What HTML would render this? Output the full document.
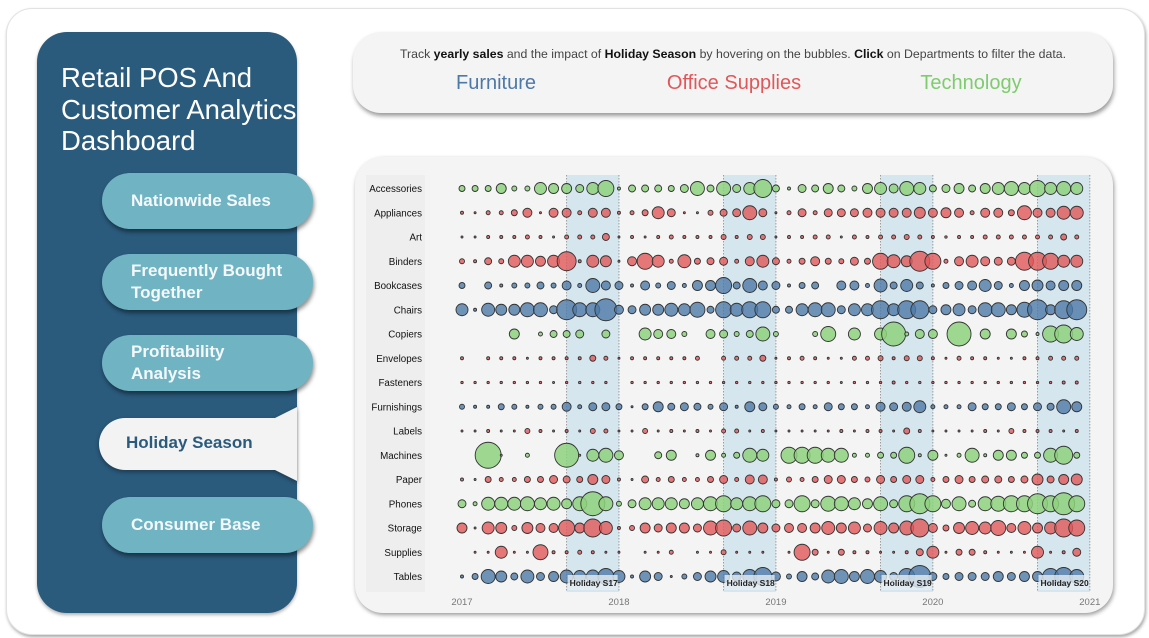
<!DOCTYPE html>
<html><head><meta charset="utf-8">
<style>
body{margin:0;width:1149px;height:638px;background:#fff;font-family:"Liberation Sans",sans-serif;position:relative;overflow:hidden}
.abs{position:absolute}
#frame{left:6px;top:8px;width:1137px;height:625px;border-radius:26px;border:1px solid #e2e2e2;box-shadow:1px 2px 3px rgba(0,0,0,.35);background:#fff}
#side{left:37px;top:32px;width:260px;height:581px;border-radius:30px;background:#2a5a7c;box-shadow:0 2px 3px rgba(0,0,0,.3)}
#title{left:61px;top:62px;color:#fff;font-size:27.5px;line-height:31.5px;font-weight:300}
.btn{left:102px;width:211px;height:56px;border-radius:28px;background:#70b4c4;color:#f4f8fa;font-weight:bold;font-size:17px;box-shadow:1px 3px 4px rgba(0,0,0,.45);box-sizing:border-box;padding-left:29px;display:flex;align-items:center;line-height:22px}
#head{left:353px;top:32px;width:760px;height:81px;border-radius:28px;background:#f4f4f4;box-shadow:1px 3px 4px rgba(0,0,0,.4)}
#card{left:355px;top:157px;width:758px;height:456px;border-radius:28px;background:#f4f4f4;box-shadow:1px 2px 4px rgba(0,0,0,.4)}
</style></head><body>
<div class="abs" id="frame"></div>
<div class="abs" id="side"></div>
<div class="abs" id="title">Retail POS And<br>Customer Analytics<br>Dashboard</div>
<div class="abs btn" style="top:173px">Nationwide Sales</div>
<div class="abs btn" style="top:254px">Frequently Bought<br>Together</div>
<div class="abs btn" style="top:335px">Profitability<br>Analysis</div>
<svg class="abs" style="left:95px;top:400px" width="210" height="90">
<path d="M30,18 H180 L202,7 V81 L180,70 H30 A26,26 0 0 1 30,18 Z" fill="#f3f3f3" filter="drop-shadow(0 2px 2px rgba(0,0,0,.35))"/>
<text x="31" y="48" font-size="17" font-weight="bold" fill="#2a5a7c" font-family="Liberation Sans, sans-serif">Holiday Season</text>
</svg>
<div class="abs btn" style="top:497px">Consumer Base</div>

<div class="abs" id="head">
<div class="abs" style="left:0;width:760px;top:15px;text-align:center;font-size:12.3px;color:#444">Track <b style="color:#111">yearly sales</b> and the impact of <b style="color:#111">Holiday Season</b> by hovering on the bubbles. <b style="color:#111">Click</b> on Departments to filter the data.</div>
<div class="abs" style="left:43px;width:200px;top:40px;text-align:center;font-size:20px;color:#4e79a7">Furniture</div>
<div class="abs" style="left:281px;width:200px;top:40px;text-align:center;font-size:20px;color:#e15759">Office Supplies</div>
<div class="abs" style="left:518px;width:200px;top:40px;text-align:center;font-size:20px;color:#7fcb6f">Technology</div>
</div>
<div class="abs" id="card"></div>
<svg class="abs" style="left:0;top:0" width="1149" height="638" id="chart"></svg>
<script>
const categories=["Accessories","Appliances","Art","Binders","Bookcases","Chairs","Copiers","Envelopes","Fasteners","Furnishings","Labels","Machines","Paper","Phones","Storage","Supplies","Tables"];
const departments=["T","O","O","O","F","F","T","O","O","F","O","T","O","T","O","O","F"];
const years=["2017","2018","2019","2020","2021"];
const holidayLabels=["Holiday S17","Holiday S18","Holiday S19","Holiday S20"];
const accessories=[3,3,3,5,2.5,2.5,6,5,5,4,6,8,1.5,3.5,3.5,3.5,3,4,7,3.5,7,4,6,9,3.5,1.5,4,3.5,5,3.5,2.5,5,6,4.5,7,6,3.5,4,5,3.5,5,6,7,6,8,6,7,6];
const appliances=[1.5,1,2,2,3,4.5,1,4.5,4.5,2,4.5,4.5,1.5,2,3,6,4,1,1,2.5,3.5,4,7,4,1,2,4,2,4,4,4,4.5,4.5,4.5,4.5,5.5,4.5,5,4.5,2,4.5,4.5,3,7,4.5,4.5,6.5,6.5];
const art=[1,1,1.5,1.5,1.5,2,1.5,1,2,2,2,3.5,1,1.5,1,1.5,2,1.5,1.5,1.5,2.5,1.5,2.5,2.5,1,1.5,1.5,2,2,1,2,1.5,2,2,2.5,2,1.5,1.2,1.5,1.5,2,2,2,2,2,2,3,2];
const binders=[2.5,1.5,3.5,2.5,6,6,5,6,9.5,1.5,6,5.5,1,4.5,8,6,2,6.5,3,3.5,4,2,4.5,6,3.5,2,3,4.5,3,2.5,4,3,8,6.5,5.5,10,8,2,4.5,6,4.5,4,4,9,9,8,6,6];
const bookcases=[3,0,3.5,1.5,2.5,2.5,3.5,2.5,4.5,2,7,4.5,4,1.5,4.5,2.5,4,2,5,5,8,3.5,7,4.5,4,1.5,3,3.5,0,4.5,4.5,2,6.5,3.5,6,3.5,1.5,3,4,4.5,6,4,2,5,5.5,4.5,5,5];
const chairs=[6,1.5,6.5,5.5,5.5,7,7,4,10,7,7,11,4.5,4,5.5,5.5,6.5,6,7.5,3.5,8,6.5,8,8,3.5,3.5,6,7,7,4,6,6,9,6,9,9,4,5,6,4,7,7,5,7.5,10,5,9,10];
const copiers=[0,0,0,0,5,0,2,3.5,3.5,4,0,4,0,0,6,4.5,4.5,2.5,0,4.5,4,2.5,3.5,7,2.5,0,0,2.5,7.5,0,6,0,6,12,2,4.5,4.5,0,12,0,5,0,5,3,1.5,8,9,6.5];
const envelopes=[1.5,0,1.5,1.5,1.5,1,1.5,1.5,1.5,1.5,3,2,1,1.5,1.5,1.5,1.5,1.5,2,0,2,2,2,3,1,1.5,2,1.5,1,1,2,2,2.5,1.5,2.5,2.5,1.5,1,2,1.5,1.5,1,1,1.5,1.5,2,2,2];
const fasteners=[1.2,1.2,1.2,1.2,1.2,1.2,1.2,1,1.2,1.2,1.2,1.2,0,1.2,1.2,1.2,1.2,1.2,1.2,1.2,1.2,1.2,1.2,1.2,1.2,1.2,1.2,1.2,1.2,1,1.2,1.2,1.2,1.5,1.2,1.2,1.2,1.2,1.2,1.2,1.2,1.2,1.2,1.2,1.2,1.2,1.5,1.5];
const furnishings=[2.5,1.5,1.5,3,2.5,1.5,2.5,2.5,4.5,2,4,4,3,1,3,5,3.5,4,3.5,2.5,4,1.5,5,4,2.5,2,3,2,4,3,3,2,4.5,4,4.5,6,2,2,2,4,3,3,4,3,4,3.5,7,5];
const labels=[1,1,1.5,1,1,2.5,1.5,1,1.5,1,2.5,2,1,1,2.5,1,1.5,1,1.5,1,2,2,1,1.5,1,1,1,1,1,1.5,1,1.5,1.5,1,3,1.5,1,1,1,1,1.5,1,2.5,1.5,1.5,1.5,1,1.5];
const machines=[0,0,13,1,0,2,0,0,12,1,6,7,4.5,0,0,3.5,5,0,1.5,5,2,3,7,6,0,8,8,8,7,7,2,2,3,3,8,1.5,5,1,2,7,1.5,5,5,3,3,7,9,3];
const paper=[1.5,1,3,2,2,3,3,4,3.5,3,5,4,1.5,1,3.5,2,3,2,2,3,4,2,4.5,4.5,1.5,2.5,2,3,4,4,3,2.5,4,3,4,4,2,3,4,3,3.5,3.5,3,3.5,5.5,3.5,5,5.5];
const phones=[4,2,6.5,6.5,6.5,7,6,6.5,5,7,12,7,2.5,4,6,6,6,5,6,7,8,6,7,8,4,4,8,4,7.5,7,6,5,7,4,8,10,8,4.5,7,3.5,7,7.5,8,8,10,8,11,8];
const storage=[5,1,6,5.5,2.5,5.5,4.5,4.5,8,5,9,6.5,1.5,2.5,5,4,5,5,4,7,8,4,7,5,4,4.5,4.5,5,6.5,5,6,4,6.5,5,7,9,4.5,3,5.5,6.5,6,7.5,4.5,6.5,5,6,9,8];
const supplies=[0,1,1,6,1,1,7.5,1.5,1.5,2,1.5,1,1,0,1,1,2,0,1,1,2.5,1,1,1,0,1,8,3,1,3,1.5,1.5,1,1,1.5,3.5,6,1,3,3,1.5,1,1,1,6,1,1.5,4];
const tables=[1.5,3,7,5.5,3.5,6.5,4,5,6.5,6,6.5,8,6,1.5,5.5,4,1,2.5,4,5.5,6,4.5,7,9,4.5,2.5,5,3.5,6.5,7,5,7,6,4,8,11,4,3,4,4,4,5,4,5,5,8,9,7];
const series=[accessories,appliances,art,binders,bookcases,chairs,copiers,envelopes,fasteners,furnishings,labels,machines,paper,phones,storage,supplies,tables];

const NS="http://www.w3.org/2000/svg";
const svg=document.getElementById('chart');
const X0=462, MONTH=13.08, Y0=188.5, ROW=24.25;
const xScale=m=>X0+m*MONTH;
const yScale=i=>Y0+i*ROW;
const rScale=v=>v;
const fills={F:"#4e79a7",O:"#e15759",T:"#8ed17e"};
function mk(tag,attrs){const e=document.createElementNS(NS,tag);for(const k in attrs)e.setAttribute(k,attrs[k]);svg.appendChild(e);return e;}
const plotTop=175, plotBot=592;
let e=mk('rect',{x:366,y:plotTop,width:59,height:plotBot-plotTop,fill:"#eeeeee"});


holidayLabels.forEach((lab,k)=>{
  const a=xScale(8+12*k), b=xScale(12+12*k);
  let r=mk('rect',{x:a,y:plotTop,width:b-a,height:plotBot-plotTop,fill:"#d6e6ee"});
  
  
  [a,b].forEach(xx=>{let l=mk('line',{x1:xx,x2:xx,y1:plotTop,y2:plotBot,stroke:"#888","stroke-width":0.8,"stroke-dasharray":"1.5,1.5"});
  
  });
});
categories.forEach((c,i)=>{
  let t=mk('text',{x:422,y:yScale(i)+3.5,"text-anchor":"end","font-size":"9.8","fill":"#111","font-family":"Liberation Sans, sans-serif"});
  t.textContent=c;
  
  
  series[i].forEach((v,m)=>{
    if(!v)return;
    let ci=mk('circle',{cx:xScale(m),cy:yScale(i),r:rScale(v),fill:fills[departments[i]],"fill-opacity":departments[i]==="T"?0.85:0.8,stroke:"#333","stroke-width":0.9});
    
    
  });
});
holidayLabels.forEach((lab,k)=>{
  const a=xScale(8+12*k);
  let r=mk('rect',{x:a+1,y:575,width:50,height:15,fill:"#e6eef2","fill-opacity":0.8});
  
  
  let t=mk('text',{x:a+3,y:586,"font-size":"8.5","font-weight":"bold",fill:"#222","font-family":"Liberation Sans, sans-serif"});
  t.textContent=lab;
  
  
});
years.forEach((y,k)=>{
  let t=mk('text',{x:xScale(12*k),y:605,"text-anchor":"middle","font-size":"9.5",fill:"#777","font-family":"Liberation Sans, sans-serif"});
  t.textContent=y;
  
  
});
</script>
</body></html>
